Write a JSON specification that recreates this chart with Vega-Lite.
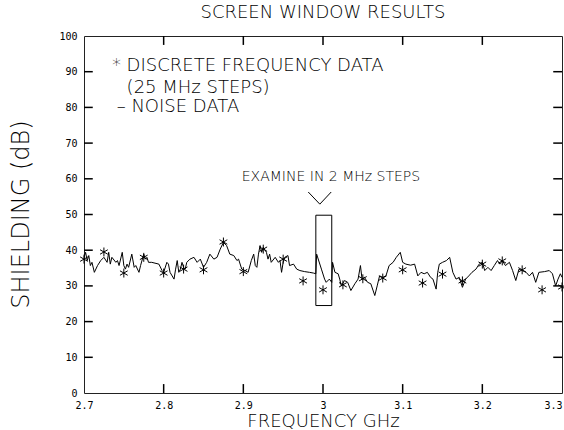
{
  "$schema": "https://vega.github.io/schema/vega-lite/v6.json",
  "width": 478,
  "height": 357,
  "autosize": {"type": "none"},
  "padding": {"left": 84, "top": 36, "right": 2, "bottom": 37},
  "background": "white",
  "config": {
    "view": {"stroke": "#222", "strokeWidth": 1},
    "axis": {"grid": false, "domain": false, "ticks": false, "labelColor": "black", "titleColor": "black", "labelFont": "DejaVu Sans Mono", "labelFontSize": 10, "titleFont": "DejaVu Sans", "titleFontWeight": 200}
  },
  "title": {"text": "SCREEN WINDOW RESULTS", "font": "DejaVu Sans", "fontSize": 18, "fontWeight": 200, "color": "black", "offset": 9},
  "datasets": {
    "noise": [
      {"f":2.700,"v":38.0},{"f":2.702,"v":39.4},{"f":2.704,"v":37.1},{"f":2.706,"v":38.5},{"f":2.708,"v":35.7},{"f":2.710,"v":36.6},{"f":2.713,"v":33.8},{"f":2.717,"v":35.7},{"f":2.721,"v":37.1},{"f":2.725,"v":38.0},{"f":2.729,"v":36.6},{"f":2.731,"v":39.4},{"f":2.733,"v":36.1},{"f":2.735,"v":38.0},{"f":2.740,"v":36.6},{"f":2.742,"v":37.1},{"f":2.744,"v":35.7},{"f":2.748,"v":39.4},{"f":2.750,"v":35.7},{"f":2.752,"v":34.7},{"f":2.754,"v":36.1},{"f":2.756,"v":35.2},{"f":2.760,"v":38.9},{"f":2.763,"v":35.2},{"f":2.765,"v":35.7},{"f":2.769,"v":33.8},{"f":2.771,"v":35.7},{"f":2.775,"v":38.9},{"f":2.777,"v":37.5},{"f":2.779,"v":38.0},{"f":2.781,"v":36.6},{"f":2.785,"v":36.6},{"f":2.794,"v":36.1},{"f":2.798,"v":34.3},{"f":2.800,"v":33.8},{"f":2.804,"v":36.6},{"f":2.806,"v":36.1},{"f":2.808,"v":33.8},{"f":2.813,"v":31.9},{"f":2.815,"v":34.7},{"f":2.817,"v":37.1},{"f":2.819,"v":33.8},{"f":2.821,"v":34.7},{"f":2.823,"v":36.6},{"f":2.825,"v":35.2},{"f":2.827,"v":34.7},{"f":2.829,"v":36.6},{"f":2.833,"v":37.5},{"f":2.838,"v":38.0},{"f":2.842,"v":36.6},{"f":2.846,"v":37.5},{"f":2.850,"v":35.2},
      {"f":2.854,"v":36.6},{"f":2.858,"v":38.9},{"f":2.863,"v":37.5},{"f":2.867,"v":38.0},{"f":2.871,"v":40.3},{"f":2.875,"v":42.2},{"f":2.879,"v":41.3},{"f":2.883,"v":38.9},{"f":2.888,"v":38.5},{"f":2.892,"v":37.1},{"f":2.894,"v":37.5},{"f":2.898,"v":34.7},{"f":2.902,"v":34.3},{"f":2.906,"v":33.8},{"f":2.910,"v":37.1},{"f":2.913,"v":38.9},{"f":2.915,"v":35.7},{"f":2.917,"v":35.2},{"f":2.919,"v":38.9},{"f":2.921,"v":41.3},{"f":2.923,"v":39.4},{"f":2.925,"v":40.8},{"f":2.929,"v":39.4},{"f":2.931,"v":37.5},{"f":2.933,"v":38.9},{"f":2.935,"v":36.6},{"f":2.940,"v":38.0},{"f":2.944,"v":36.6},{"f":2.946,"v":37.1},{"f":2.948,"v":33.8},{"f":2.950,"v":36.6},{"f":2.952,"v":38.0},{"f":2.956,"v":38.5},{"f":2.958,"v":35.7},{"f":2.963,"v":36.1},{"f":2.967,"v":34.7},{"f":2.971,"v":34.3},{"f":2.977,"v":34.0},{"f":2.983,"v":33.8},{"f":2.988,"v":33.6},{"f":2.991,"v":33.4},{"f":2.992,"v":38.9},
      {"f":2.998,"v":34.7},{"f":3.002,"v":31.9},{"f":3.004,"v":31.0},{"f":3.008,"v":31.9},{"f":3.011,"v":31.0},{"f":3.012,"v":36.6},{"f":3.015,"v":33.8},{"f":3.019,"v":33.4},{"f":3.021,"v":31.9},{"f":3.023,"v":30.0},{"f":3.027,"v":31.5},{"f":3.031,"v":31.0},{"f":3.035,"v":28.7},{"f":3.040,"v":30.6},{"f":3.044,"v":31.9},{"f":3.047,"v":35.7},{"f":3.049,"v":31.9},{"f":3.052,"v":32.4},{"f":3.056,"v":31.0},{"f":3.060,"v":30.6},{"f":3.065,"v":27.3},{"f":3.068,"v":30.0},{"f":3.071,"v":32.8},{"f":3.075,"v":32.4},{"f":3.079,"v":32.8},{"f":3.083,"v":35.7},{"f":3.088,"v":36.6},{"f":3.092,"v":38.0},{"f":3.097,"v":39.4},{"f":3.100,"v":36.6},{"f":3.104,"v":36.1},{"f":3.110,"v":35.8},{"f":3.115,"v":36.1},{"f":3.119,"v":32.8},{"f":3.123,"v":33.8},{"f":3.127,"v":33.4},{"f":3.131,"v":33.8},{"f":3.135,"v":32.4},{"f":3.138,"v":31.9},{"f":3.142,"v":29.1},{"f":3.144,"v":33.8},
      {"f":3.146,"v":36.1},{"f":3.150,"v":36.6},{"f":3.155,"v":37.1},{"f":3.159,"v":38.0},{"f":3.163,"v":33.8},{"f":3.167,"v":31.9},{"f":3.171,"v":32.4},{"f":3.175,"v":29.6},{"f":3.179,"v":31.9},{"f":3.183,"v":32.8},{"f":3.187,"v":33.8},{"f":3.192,"v":34.7},{"f":3.196,"v":36.1},{"f":3.200,"v":36.6},{"f":3.203,"v":34.3},{"f":3.207,"v":35.2},{"f":3.211,"v":34.3},{"f":3.215,"v":35.7},{"f":3.219,"v":37.1},{"f":3.222,"v":36.1},{"f":3.225,"v":37.1},{"f":3.229,"v":35.7},{"f":3.234,"v":36.6},{"f":3.238,"v":34.3},{"f":3.242,"v":31.5},{"f":3.246,"v":34.7},{"f":3.250,"v":34.3},{"f":3.255,"v":33.8},{"f":3.259,"v":32.8},{"f":3.263,"v":33.8},{"f":3.267,"v":31.0},{"f":3.271,"v":33.8},{"f":3.278,"v":34.0},{"f":3.284,"v":34.3},{"f":3.288,"v":33.4},{"f":3.292,"v":30.0},{"f":3.295,"v":31.9},{"f":3.298,"v":33.4},{"f":3.300,"v":32.4}
    ],
    "discrete": [
      {"f":2.700,"v":37.5},{"f":2.725,"v":39.5},{"f":2.750,"v":33.6},{"f":2.775,"v":38.0},{"f":2.800,"v":33.6},{"f":2.825,"v":34.7},{"f":2.850,"v":34.5},{"f":2.875,"v":42.3},{"f":2.900,"v":34.0},{"f":2.925,"v":40.3},{"f":2.950,"v":37.5},{"f":2.975,"v":31.4},{"f":3.000,"v":28.9},{"f":3.025,"v":30.3},{"f":3.050,"v":32.0},{"f":3.075,"v":32.2},{"f":3.100,"v":34.5},{"f":3.125,"v":30.8},{"f":3.150,"v":33.3},{"f":3.175,"v":31.4},{"f":3.200,"v":36.1},{"f":3.225,"v":37.0},{"f":3.250,"v":34.5},{"f":3.275,"v":28.9},{"f":3.300,"v":29.7}
    ],
    "yticks": [{"v":10},{"v":20},{"v":30},{"v":40},{"v":50},{"v":60},{"v":70},{"v":80},{"v":90}],
    "xticks": [{"f":2.8},{"f":2.9},{"f":3.0},{"f":3.1},{"f":3.2}],
    "box": [{"f1":2.991,"f2":3.011,"v1":24.5,"v2":49.8}],
    "vee": [{"f":2.9815,"v":56.3,"o":1},{"f":2.996,"v":52.9,"o":2},{"f":3.0103,"v":56.3,"o":3}],
    "legend": [
      {"f":2.735,"v":91.6,"label":"* DISCRETE FREQUENCY DATA"},
      {"f":2.7535,"v":85.4,"label":"(25 MHz STEPS)"},
      {"f":2.741,"v":80.0,"label":"– NOISE DATA"}
    ],
    "note": [{"f":3.01,"v":60.5,"label":"EXAMINE IN 2 MHz STEPS"}]
  },
  "resolve": {"axis": {"x": "independent", "y": "independent"}},
  "layer": [
    {
      "data": {"name": "yticks"},
      "mark": {"type": "rule", "color": "black", "strokeWidth": 1.5},
      "encoding": {
        "x": {"datum": 2.7, "type": "quantitative", "scale": {"domain": [2.7, 3.3], "nice": false, "zero": false}, "axis": null},
        "x2": {"datum": 2.711},
        "y": {"field": "v", "type": "quantitative", "scale": {"domain": [0, 100], "nice": false}, "axis": null}
      }
    },
    {
      "data": {"name": "yticks"},
      "mark": {"type": "rule", "color": "black", "strokeWidth": 1.5},
      "encoding": {
        "x": {"datum": 3.289, "type": "quantitative", "axis": null},
        "x2": {"datum": 3.3},
        "y": {"field": "v", "type": "quantitative", "axis": null}
      }
    },
    {
      "data": {"name": "xticks"},
      "mark": {"type": "rule", "color": "black", "strokeWidth": 1.5},
      "encoding": {
        "x": {"field": "f", "type": "quantitative", "axis": null},
        "y": {"datum": 0, "type": "quantitative", "axis": null},
        "y2": {"datum": 2.5}
      }
    },
    {
      "data": {"name": "xticks"},
      "mark": {"type": "rule", "color": "black", "strokeWidth": 1.5},
      "encoding": {
        "x": {"field": "f", "type": "quantitative", "axis": null},
        "y": {"datum": 97.5, "type": "quantitative", "axis": null},
        "y2": {"datum": 100}
      }
    },
    {
      "data": {"name": "noise"},
      "mark": {"type": "line", "color": "black", "strokeWidth": 1, "interpolate": "linear"},
      "encoding": {
        "x": {"field": "f", "type": "quantitative", "sort": null,
          "axis": {"orient": "bottom", "values": [2.7, 2.8, 2.9, 3.0, 3.1, 3.2, 3.3], "format": "~g", "labelPadding": 7,
            "labelAlign": {"condition": {"test": "datum.value >= 3.29", "value": "right"}, "value": "center"},
            "title": "FREQUENCY GHz", "titleFontSize": 18, "titleY": 33, "titleBaseline": "alphabetic"}},
        "y": {"field": "v", "type": "quantitative",
          "axis": {"orient": "left", "values": [0, 10, 20, 30, 40, 50, 60, 70, 80, 90, 100], "labelPadding": 7,
            "title": "SHIELDING (dB)", "titleFontSize": 24, "titleX": -56, "titleY": 178, "titleAngle": -90, "titleBaseline": "alphabetic", "titleAlign": "center"}}
      }
    },
    {
      "data": {"name": "discrete"},
      "mark": {"type": "point", "shape": "M0,-1V1M-0.866,-0.5L0.866,0.5M-0.866,0.5L0.866,-0.5", "filled": false, "stroke": "black", "strokeWidth": 1, "size": 80, "opacity": 1},
      "encoding": {
        "x": {"field": "f", "type": "quantitative", "axis": null},
        "y": {"field": "v", "type": "quantitative", "axis": null}
      }
    },
    {
      "data": {"name": "box"},
      "mark": {"type": "rect", "fill": null, "fillOpacity": 0, "stroke": "black", "strokeWidth": 1},
      "encoding": {
        "x": {"field": "f1", "type": "quantitative", "axis": null},
        "x2": {"field": "f2"},
        "y": {"field": "v1", "type": "quantitative", "axis": null},
        "y2": {"field": "v2"}
      }
    },
    {
      "data": {"name": "vee"},
      "mark": {"type": "line", "color": "black", "strokeWidth": 1},
      "encoding": {
        "x": {"field": "f", "type": "quantitative", "axis": null},
        "y": {"field": "v", "type": "quantitative", "axis": null},
        "order": {"field": "o"}
      }
    },
    {
      "data": {"name": "legend"},
      "mark": {"type": "text", "align": "left", "baseline": "middle", "font": "DejaVu Sans", "fontSize": 18, "fontWeight": 200, "color": "black"},
      "encoding": {
        "x": {"field": "f", "type": "quantitative", "axis": null},
        "y": {"field": "v", "type": "quantitative", "axis": null},
        "text": {"field": "label"}
      }
    },
    {
      "data": {"name": "note"},
      "mark": {"type": "text", "align": "center", "baseline": "middle", "font": "DejaVu Sans", "fontSize": 14, "fontWeight": 200, "color": "black"},
      "encoding": {
        "x": {"field": "f", "type": "quantitative", "axis": null},
        "y": {"field": "v", "type": "quantitative", "axis": null},
        "text": {"field": "label"}
      }
    }
  ]
}
